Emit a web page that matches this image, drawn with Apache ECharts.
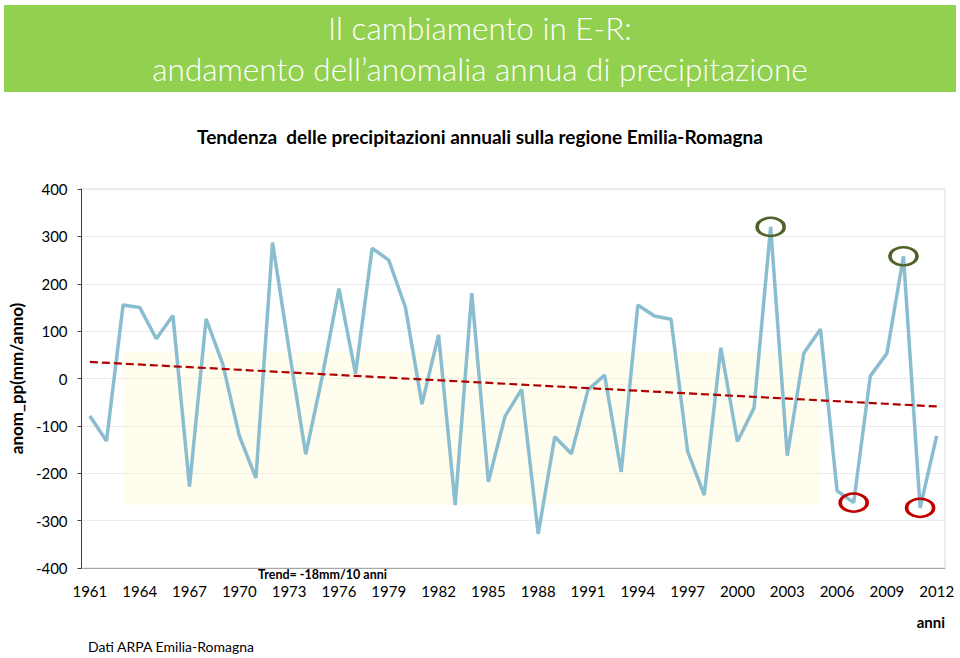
<!DOCTYPE html>
<html>
<head>
<meta charset="utf-8">
<script src="https://cdn.jsdelivr.net/npm/echarts@6/dist/echarts.min.js"></script>
<style>
html,body{margin:0;padding:0;background:#fff;}
#chart{width:960px;height:658px;}
</style>
</head>
<body>
<div id="chart"></div>
<script>
const years = ['1961','1962','1963','1964','1965','1966','1967','1968','1969','1970',
  '1971','1972','1973','1974','1975','1976','1977','1978','1979','1980',
  '1981','1982','1983','1984','1985','1986','1987','1988','1989','1990',
  '1991','1992','1993','1994','1995','1996','1997','1998','1999','2000',
  '2001','2002','2003','2004','2005','2006','2007','2008','2009','2010',
  '2011','2012'];
const anomaly = [-79,-132,155,150,84,133,-228,126,31,-121,
  -210,287,60,-160,5,190,10,275,250,151,
  -54,92,-267,180,-218,-80,-23,-328,-123,-159,
  -24,7,-197,155,132,125,-154,-246,65,-133,
  -62,320,-163,54,104,-237,-262,5,53,258,
  -273,-121];
const trendYears = ['1961','2012'];
const trendValues = [35,-59];
const highlightArea = {from:['1963',56], to:['2005',-267]};
const wetYears = ['2002','2010'];
const dryYears = ['2007','2011'];
const yTicks = {min:-400, max:400, interval:100};

const FONT = 'Lato, "Open Sans", sans-serif';
const chart = echarts.init(document.getElementById('chart'), null, {renderer:'svg'});

const circlePts = [];
wetYears.forEach(y => circlePts.push({coord:[y, anomaly[years.indexOf(y)]], itemStyle:{color:'rgba(0,0,0,0)', borderColor:'#4F6228', borderWidth:3}}));
dryYears.forEach(y => circlePts.push({coord:[y, anomaly[years.indexOf(y)]], itemStyle:{color:'rgba(0,0,0,0)', borderColor:'#C00000', borderWidth:3}}));

chart.setOption({
  animation:false,
  backgroundColor:'#ffffff',
  textStyle:{fontFamily:FONT},
  grid:{left:78, right:15, top:189, bottom:90, show:true, borderColor:'#d9d9d9', borderWidth:1},
  xAxis:{
    type:'category', data:years, boundaryGap:true,
    axisLine:{onZero:false, lineStyle:{color:'#a6a6a6'}},
    axisTick:{interval:2, length:5, lineStyle:{color:'#a6a6a6'}},
    axisLabel:{interval:2, color:'#000', fontSize:15, fontFamily:FONT, margin:15},
    splitLine:{show:false}
  },
  yAxis:{
    type:'value', min:yTicks.min, max:yTicks.max, interval:yTicks.interval,
    name:'anom_pp(mm/anno)', nameLocation:'middle', nameRotate:90, nameGap:56,
    nameTextStyle:{fontWeight:'bold', fontSize:17, color:'#000', fontFamily:FONT},
    axisLine:{show:true, lineStyle:{color:'#404040'}},
    axisTick:{show:true, length:4, lineStyle:{color:'#404040'}},
    axisLabel:{color:'#000', fontSize:15, fontFamily:FONT, margin:14},
    splitLine:{lineStyle:{color:'#ebebeb'}}
  },
  series:[{
    type:'line', data:anomaly, symbol:'none',
    lineStyle:{color:'#8BBDD1', width:3.5},
    z:3,
    markArea:{
      silent:true,
      itemStyle:{color:'rgba(255,250,200,0.3)'},
      data:[[{xAxis:highlightArea.from[0], yAxis:highlightArea.from[1]},{xAxis:highlightArea.to[0], yAxis:highlightArea.to[1]}]]
    },
    markLine:{
      silent:true, symbol:['none','none'], label:{show:false},
      lineStyle:{color:'#B00000', type:[8,4], width:2.2},
      data:[[{coord:[trendYears[0], trendValues[0]]},{coord:[trendYears[1], trendValues[1]]}]]
    },
    markPoint:{
      silent:true, symbol:'circle', symbolSize:[27,18], label:{show:false},
      data:circlePts
    }
  }],
  graphic:[
    {type:'rect', left:4, top:5, shape:{width:952, height:87}, style:{fill:'#92D050'}, silent:true},
    {type:'text', left:'center', top:12, style:{text:'Il cambiamento in E-R:', fill:'#fff', font:'300 31.5px '+FONT}},
    {type:'text', left:'center', top:53, style:{text:'andamento dell\u2019anomalia annua di precipitazione', fill:'#fff', font:'300 31.5px '+FONT}},
    {type:'text', left:'center', top:127, style:{text:'Tendenza  delle precipitazioni annuali sulla regione Emilia-Romagna', fill:'#000', font:'bold 19px '+FONT}},
    {type:'text', left:258, top:568, style:{text:'Trend= -18mm/10 anni', fill:'#000', font:'bold 12.5px '+FONT}},
    {type:'text', right:15, top:614, style:{text:'anni', fill:'#000', font:'bold 15px '+FONT}},
    {type:'text', left:88, top:639, style:{text:'Dati ARPA Emilia-Romagna', fill:'#000', font:'14px '+FONT}}
  ]
});
</script>
</body>
</html>
